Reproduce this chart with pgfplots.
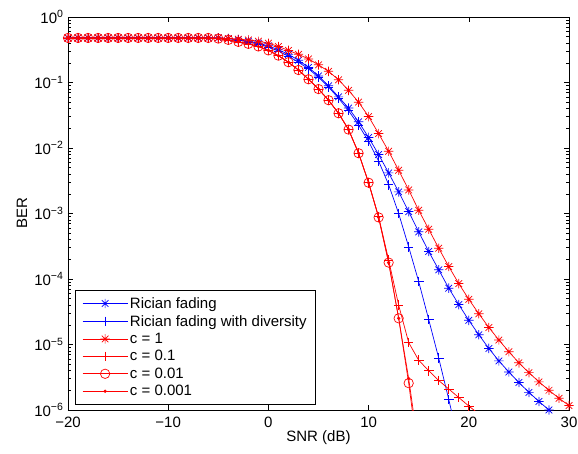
\documentclass[border=0pt]{standalone}
\usepackage{fontspec}
\setmainfont{Liberation Sans}
\usepackage{pgfplots}
\pgfplotsset{compat=1.18}
\usepackage{pgfplotstable}

% MATLAB-style '*' marker (plus and cross overlaid)
\pgfdeclareplotmark{mstar}{%
  \pgfpathmoveto{\pgfqpoint{0pt}{\pgfplotmarksize}}\pgfpathlineto{\pgfqpoint{0pt}{-\pgfplotmarksize}}%
  \pgfpathmoveto{\pgfqpoint{\pgfplotmarksize}{0pt}}\pgfpathlineto{\pgfqpoint{-\pgfplotmarksize}{0pt}}%
  \pgfpathmoveto{\pgfqpoint{0.707\pgfplotmarksize}{0.707\pgfplotmarksize}}\pgfpathlineto{\pgfqpoint{-0.707\pgfplotmarksize}{-0.707\pgfplotmarksize}}%
  \pgfpathmoveto{\pgfqpoint{-0.707\pgfplotmarksize}{0.707\pgfplotmarksize}}\pgfpathlineto{\pgfqpoint{0.707\pgfplotmarksize}{-0.707\pgfplotmarksize}}%
  \pgfusepathqstroke}

% Rician fading
\pgfplotstableread{
x y
-20 0.479
-19 0.479
-18 0.479
-17 0.479
-16 0.479
-15 0.479
-14 0.479
-13 0.479
-12 0.479
-11 0.479
-10 0.479
-9 0.479
-8 0.479
-7 0.479
-6 0.479
-5 0.479
-4 0.468
-3 0.447
-2 0.427
-1 0.398
0 0.363
1 0.316
2 0.269
3 0.219
4 0.170
5 0.126
6 0.0891
7 0.0603
8 0.0407
9 0.0251
10 0.0145
11 7.94e-3
12 4.17e-3
13 2.14e-3
14 1.07e-3
15 5.25e-4
16 2.63e-4
17 1.38e-4
18 7.24e-5
19 4.07e-5
20 2.34e-5
21 1.41e-5
22 8.71e-6
23 5.62e-6
24 3.80e-6
25 2.63e-6
26 1.86e-6
27 1.35e-6
28 1.00e-6
29 7.59e-7
30 5.75e-7
}\rician

% Rician fading with diversity
\pgfplotstableread{
x y
-20 0.479
-19 0.479
-18 0.479
-17 0.479
-16 0.479
-15 0.479
-14 0.479
-13 0.479
-12 0.479
-11 0.479
-10 0.479
-9 0.479
-8 0.479
-7 0.479
-6 0.479
-5 0.479
-4 0.468
-3 0.447
-2 0.417
-1 0.389
0 0.347
1 0.302
2 0.251
3 0.204
4 0.162
5 0.120
6 0.0851
7 0.0575
8 0.0372
9 0.0224
10 0.0126
11 6.31e-3
12 2.75e-3
13 1.00e-3
14 3.09e-4
15 9.12e-5
16 2.40e-5
17 6.17e-6
18 1.45e-6
19 3.16e-7
}\diversity

% c = 1
\pgfplotstableread{
x y
-20 0.479
-19 0.479
-18 0.479
-17 0.479
-16 0.479
-15 0.479
-14 0.479
-13 0.479
-12 0.479
-11 0.479
-10 0.479
-9 0.479
-8 0.479
-7 0.479
-6 0.479
-5 0.479
-4 0.468
-3 0.457
-2 0.447
-1 0.427
0 0.398
1 0.355
2 0.309
3 0.269
4 0.229
5 0.186
6 0.148
7 0.110
8 0.0759
9 0.0501
10 0.0302
11 0.0166
12 8.91e-3
13 4.57e-3
14 2.29e-3
15 1.12e-3
16 5.75e-4
17 2.95e-4
18 1.55e-4
19 8.51e-5
20 4.90e-5
21 2.95e-5
22 1.82e-5
23 1.17e-5
24 7.76e-6
25 5.25e-6
26 3.72e-6
27 2.69e-6
28 2.00e-6
29 1.51e-6
30 1.17e-6
}\cone

% c = 0.1
\pgfplotstableread{
x y
-20 0.479
-19 0.479
-18 0.479
-17 0.479
-16 0.479
-15 0.479
-14 0.479
-13 0.479
-12 0.479
-11 0.479
-10 0.479
-9 0.479
-8 0.479
-7 0.479
-6 0.479
-5 0.468
-4 0.447
-3 0.417
-2 0.389
-1 0.355
0 0.309
1 0.257
2 0.204
3 0.155
4 0.112
5 0.0794
6 0.0537
7 0.0339
8 0.0191
9 8.32e-3
10 2.95e-3
11 8.91e-4
12 1.95e-4
13 3.98e-5
14 1.07e-5
15 5.75e-6
16 3.98e-6
17 2.82e-6
18 2.09e-6
19 1.55e-6
20 1.15e-6
21 8.71e-7
22 6.61e-7
}\cpointone

% c = 0.01
\pgfplotstableread{
x y
-20 0.479
-19 0.479
-18 0.479
-17 0.479
-16 0.479
-15 0.479
-14 0.479
-13 0.479
-12 0.479
-11 0.479
-10 0.479
-9 0.479
-8 0.479
-7 0.479
-6 0.479
-5 0.468
-4 0.447
-3 0.417
-2 0.389
-1 0.355
0 0.309
1 0.257
2 0.204
3 0.155
4 0.112
5 0.0794
6 0.0537
7 0.0339
8 0.0191
9 8.32e-3
10 2.95e-3
11 8.71e-4
12 1.78e-4
13 2.51e-5
14 2.57e-6
15 1.78e-7
}\cpointzeroone

% c = 0.001
\pgfplotstableread{
x y
-20 0.479
-19 0.479
-18 0.479
-17 0.479
-16 0.479
-15 0.479
-14 0.479
-13 0.479
-12 0.479
-11 0.479
-10 0.479
-9 0.479
-8 0.479
-7 0.479
-6 0.479
-5 0.468
-4 0.447
-3 0.417
-2 0.389
-1 0.355
0 0.309
1 0.257
2 0.204
3 0.155
4 0.112
5 0.0794
6 0.0537
7 0.0339
8 0.0191
9 8.32e-3
10 2.95e-3
11 8.71e-4
12 1.78e-4
13 2.51e-5
14 3.02e-6
15 2.51e-7
}\cpointzerozeroone

\begin{document}
\begin{tikzpicture}
\begin{axis}[
  name=ax,
  scale only axis,
  width=501pt, height=393pt,
  ymode=log,
  xmin=-20, xmax=30, ymin=1e-6, ymax=1,
  xtick={-20,-10,0,10,20,30},
  xticklabels={−20,−10,0,10,20,30},
  ytick={1e-6,1e-5,1e-4,1e-3,1e-2,1e-1,1},
  yticklabels={10\textsuperscript{−6},10\textsuperscript{−5},10\textsuperscript{−4},10\textsuperscript{−3},10\textsuperscript{−2},10\textsuperscript{−1},10\textsuperscript{0}},
  tick align=inside,
  major tick length=5pt, minor tick length=3pt,
  tick style={black, line width=0.5pt},
  axis line style={line width=0.6pt},
  tick label style={font=\fontsize{15}{17}\selectfont},
  xticklabel style={yshift=-3pt},
  yticklabel style={xshift=-1pt},
  label style={font=\fontsize{15}{17}\selectfont},
  xlabel={SNR (dB)}, ylabel={BER},
  xlabel style={at={(axis description cs:0.5,-0.069)}, anchor=center},
  ylabel style={at={(axis description cs:-0.092,0.5)}, anchor=center},
  legend cell align=left,
  legend style={at={(axis description cs:0.014,0.014)}, anchor=south west,
    font=\fontsize{15}{17}\selectfont, draw=black, line width=0.5pt,
    row sep=1.5pt, inner xsep=7pt, inner ysep=5pt},
  legend image code/.code={\draw[mark repeat=2,mark phase=2,#1] plot coordinates {(0pt,0pt) (22.5pt,0pt) (45pt,0pt)};},
  every axis plot/.append style={line width=0.7pt},
]
\addplot[blue, mark=mstar, mark size=4.7pt] table {\rician};
\addplot[blue, mark=+, mark size=4.8pt] table {\diversity};
\addplot[red, mark=mstar, mark size=4.7pt] table {\cone};
\addplot[red, mark=+, mark size=4.8pt] table {\cpointone};
\addplot[red, mark=o, mark size=4.7pt] table {\cpointzeroone};
\addplot[red, mark=*, mark size=1.3pt] table {\cpointzerozeroone};
\legend{Rician fading,Rician fading with diversity,c = 1,c = 0.1,c = 0.01,c = 0.001}
\end{axis}
\pgfresetboundingbox
\path ([xshift=-68pt,yshift=-44pt]ax.south west) rectangle ([xshift=9pt,yshift=17pt]ax.north east);
\end{tikzpicture}
\end{document}
